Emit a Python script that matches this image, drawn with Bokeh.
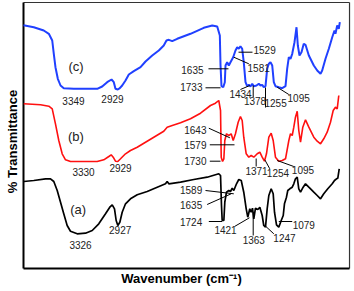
import math
from bokeh.plotting import figure
from bokeh.models import Range1d, ColumnDataSource
from bokeh.core.properties import value
from bokeh.embed import file_html
from bokeh.resources import INLINE

# ---- data: wavenumber (cm-1) and transmittance (arbitrary offset units) ----
wn_c = [4000, 3882, 3768, 3710, 3671, 3653, 3634, 3607, 3576, 3539, 3424, 3156, 3099, 3042, 2992, 2966,
        2947, 2920, 2897, 2870, 2832, 2794, 2737, 2660, 2603, 2526, 2451, 2394, 2363, 2336, 2297, 2240,
        2088, 1936, 1839, 1782, 1752, 1744, 1733, 1713, 1695, 1687, 1668, 1649, 1630, 1599, 1573, 1553,
        1535, 1516, 1496, 1478, 1458, 1439, 1420, 1401, 1381, 1363, 1332, 1306, 1286, 1267, 1249, 1229,
        1210, 1191, 1172, 1152, 1134, 1115, 1077, 1038, 1000, 981, 962, 943, 923, 897, 874, 859, 840,
        817, 791, 771, 733, 676, 637, 599, 580, 542, 504, 465, 439, 428, 408, 390, 378]
t_c = [243.3, 241.3, 238, 234.7, 228, 214.7, 201.3, 189.7, 183, 180.3, 179.7, 179.7, 182, 186.3, 189, 186.3,
       179.7, 179, 180.3, 183, 188, 194, 197.3, 201.3, 207, 213, 218, 223, 228, 228.7, 227.3, 229.7,
       234.7, 240.7, 243, 242, 233, 203, 182.3, 181.3, 186.3, 203, 206.3, 203, 206.3, 211.3, 218, 221.3,
       219.7, 222.3, 219.7, 206.3, 186.3, 182.3, 183.7, 182, 184.7, 182.3, 183, 184.7, 183, 183.7, 181.3, 182.3,
       199.7, 204.7, 206.3, 203, 186.3, 182.3, 181.3, 180.3, 182.3, 199.7, 211.3, 209.7, 214.7, 226.3, 241.3, 223, 213,
       216.3, 224.7, 223.7, 213, 203, 198, 194.7, 198, 209.7, 219.7, 231.3, 238, 234.7, 243, 239.7, 246.3]

wn_b = [3997, 3805, 3710, 3671, 3634, 3596, 3557, 3519, 3462, 3156, 3081, 3023, 2996, 2973, 2947, 2920,
        2889, 2832, 2775, 2698, 2603, 2508, 2394, 2355, 2297, 2202, 2088, 1973, 1859, 1802, 1764, 1744,
        1736, 1721, 1706, 1695, 1676, 1649, 1622, 1599, 1573, 1542, 1516, 1496, 1478, 1450, 1420, 1393,
        1363, 1324, 1294, 1267, 1241, 1218, 1191, 1164, 1141, 1115, 1077, 1038, 1000, 962, 943, 923,
        905, 886, 866, 848, 828, 802, 771, 733, 676, 637, 599, 562, 523, 485, 454, 428, 408, 390]
t_b = [164.7, 163.7, 162.3, 159.7, 144.7, 128, 114.7, 108.7, 107, 107, 108.7, 112, 113.7, 111.3, 107.3, 107,
       109.7, 114.7, 118, 121.3, 126.3, 131.3, 137.3, 141.3, 143, 145.7, 149.7, 155.3, 163, 165.3, 168, 158,
       111.3, 107, 109.7, 128, 134.7, 133, 134.7, 128, 134.7, 146.3, 152, 148, 131.3, 114.7, 111.3, 113,
       111.3, 114.7, 116.3, 111.3, 107.3, 114.7, 131.3, 135.3, 128, 111.3, 107.3, 108, 109.7, 128, 134.7, 133,
       141.3, 151.3, 157.3, 138, 126.3, 141.3, 148.7, 141.3, 131.3, 127.3, 124.7, 129.7, 136.3, 146.3, 158, 161.3, 159.7, 173]

wn_a = [3997, 3882, 3748, 3691, 3653, 3614, 3576, 3539, 3500, 3462, 3385, 3290, 3213, 3138, 3061, 3012,
        2984, 2958, 2939, 2920, 2897, 2870, 2832, 2775, 2698, 2584, 2469, 2374, 2355, 2336, 2202, 2050,
        1897, 1764, 1744, 1733, 1725, 1706, 1695, 1676, 1649, 1630, 1610, 1592, 1561, 1535, 1507, 1478,
        1450, 1432, 1409, 1393, 1378, 1363, 1344, 1317, 1294, 1267, 1249, 1229, 1210, 1191, 1164, 1141,
        1126, 1103, 1077, 1049, 1026, 1012, 989, 974, 951, 923, 905, 886, 866, 848, 828, 798, 771, 733,
        676, 637, 599, 562, 516, 465, 439, 416, 401, 385]
t_a = [87, 88, 89.7, 89.7, 87, 78, 66.3, 54.7, 43, 37.3, 34.7, 35.3, 38, 44.7, 54.7, 61.3,
       63.7, 59.7, 48, 43, 46.3, 56.3, 64.7, 69.7, 73.7, 77, 81.3, 84.7, 87, 84.7, 86.3, 89,
       91.3, 94.7, 93, 63, 48, 48, 66.3, 76.3, 78, 77, 80.3, 78, 84.7, 89, 88, 76.3,
       59.7, 51.3, 59.7, 56.3, 60.3, 49.7, 60.3, 59, 61.3, 53, 43, 41.3, 59.7, 73, 79.7, 74.7,
       56.3, 43.7, 41.3, 48, 53, 64.7, 71.3, 78, 79.7, 81.3, 84.7, 89.7, 91.3, 79.7, 76.3, 81.3, 84.7, 81.3,
       76.3, 73, 69.7, 74.7, 79.7, 84.7, 88, 89.7, 90.3, 99.7]

# ---- peak labels: text, x (cm-1), y, alignment ----
lab_text = ["3349", "2929", "1635", "1733", "1529", "1581", "1434", "1378", "1255", "1095",
            "3330", "2929", "1643", "1579", "1730", "1371", "1254", "1095",
            "3326", "2927", "1589", "1635", "1724", "1421", "1363", "1247", "1079"]
lab_x = [3428, 2981, 1939, 1951, 1367, 1435, 1515, 1349, 1241, 977,
         3313, 2889, 1905, 1905, 1905, 1332, 1086, 800,
         3347, 2893, 1954, 1954, 1954, 1687, 1363, 1012, 791]
lab_y = [168, 169.5, 199, 182, 219, 201, 174.5, 167.5, 165.5, 170.5,
         97, 100.5, 139, 124, 107.5, 98, 95.5, 99,
         24, 39, 79, 64, 47, 39, 29, 31, 44]
lab_align = ["center", "center", "right", "right", "left", "left", "center", "center", "left", "left",
             "center", "center", "right", "right", "right", "center", "center", "center",
             "center", "center", "right", "right", "right", "center", "center", "center", "center"]

# leader lines (x0, y0, x1, y1)
ld_x0 = [1882, 1916, 1538, 1592, 1516, 1370, 1229, 1095,
         1878, 1867, 1867, 1336, 1237, 1095,
         1916, 1897, 1878, 1584, 1370, 1237, 1077]
ld_y0 = [199.7, 180.7, 216.3, 211.3, 179, 183, 181, 181.3,
         140.3, 123.7, 107.3, 110, 108.7, 108,
         78, 64, 47, 42, 56.3, 43, 47]
ld_x1 = [1653, 1744, 1378, 1420, 1409, 1370, 1229, 962,
         1637, 1584, 1744, 1336, 1180, 905,
         1592, 1622, 1725, 1413, 1370, 1134, 923]
ld_y1 = [199.7, 180.7, 216.3, 204.7, 183, 171.3, 161, 174,
         130.7, 123.7, 107.3, 102, 99.7, 102,
         74.7, 74.7, 47, 50.7, 33, 34.7, 47]

curve_names = ["(c)", "(b)", "(a)"]
curve_name_x = [3399, 3399, 3374]
curve_name_y = [202, 132.5, 59]

# plot box (wavenumber range shown and transmittance range shown)
box_wn_left, box_wn_right = 4000, 267
box_t_bottom, box_t_top = 0, 266

x_title = "Wavenumber (cm\u207b\u00b9)"
y_title = "% Transmittance"
x_title_pos = (2191, -10)
y_title_pos = (4126, 127)

FONT = "Liberation Sans"

p = figure(width=354, height=291, x_range=Range1d(4263.35, 210.05), y_range=Range1d(-23, 268),
           output_backend="svg", toolbar_location=None,
           min_border_left=0, min_border_right=0, min_border_top=0, min_border_bottom=0)
p.background_fill_color = "white"
p.border_fill_color = "white"
p.outline_line_color = None
p.xgrid.visible = False
p.ygrid.visible = False
p.xaxis.visible = False
p.yaxis.visible = False

# frame: thin top/right, thicker left/bottom
p.segment(x0=[box_wn_left, box_wn_right], y0=[box_t_top, box_t_bottom],
          x1=[box_wn_right, box_wn_right], y1=[box_t_top, box_t_top], line_color="#333333", line_width=1.2)
p.segment(x0=[box_wn_left, box_wn_left], y0=[box_t_bottom, box_t_bottom],
          x1=[box_wn_left, box_wn_right], y1=[box_t_top, box_t_bottom], line_color="black", line_width=2)

p.line(wn_c, t_c, line_color="#2040ff", line_width=2)
p.line(wn_b, t_b, line_color="#ff1010", line_width=1.6)
p.line(wn_a, t_a, line_color="black", line_width=1.7)

p.segment(x0=ld_x0, y0=ld_y0, x1=ld_x1, y1=ld_y1, line_color="black", line_width=1)

for al in ("left", "center", "right"):
    idx = [i for i, a in enumerate(lab_align) if a == al]
    src = ColumnDataSource(dict(x=[lab_x[i] for i in idx], y=[lab_y[i] for i in idx],
                                t=[lab_text[i] for i in idx]))
    p.text(x="x", y="y", text="t", source=src, text_align=al, text_baseline="middle",
           text_font=value(FONT), text_font_size="10px", text_color="#222222")

p.text(x=curve_name_x, y=curve_name_y, text=curve_names, text_align="center", text_baseline="middle",
       text_font=value(FONT), text_font_size="13px", text_color="#222222")

p.text(x=[x_title_pos[0]], y=[x_title_pos[1]], text=[x_title], text_align="center",
       text_baseline="middle", text_font=value(FONT), text_font_style="bold",
       text_font_size="13px", text_color="black")
p.text(x=[y_title_pos[0]], y=[y_title_pos[1]], text=[y_title], angle=math.pi / 2, text_align="center",
       text_baseline="middle", text_font=value(FONT), text_font_style="bold",
       text_font_size="13px", text_color="black")

open("out.html", "w").write(file_html(p, INLINE))
